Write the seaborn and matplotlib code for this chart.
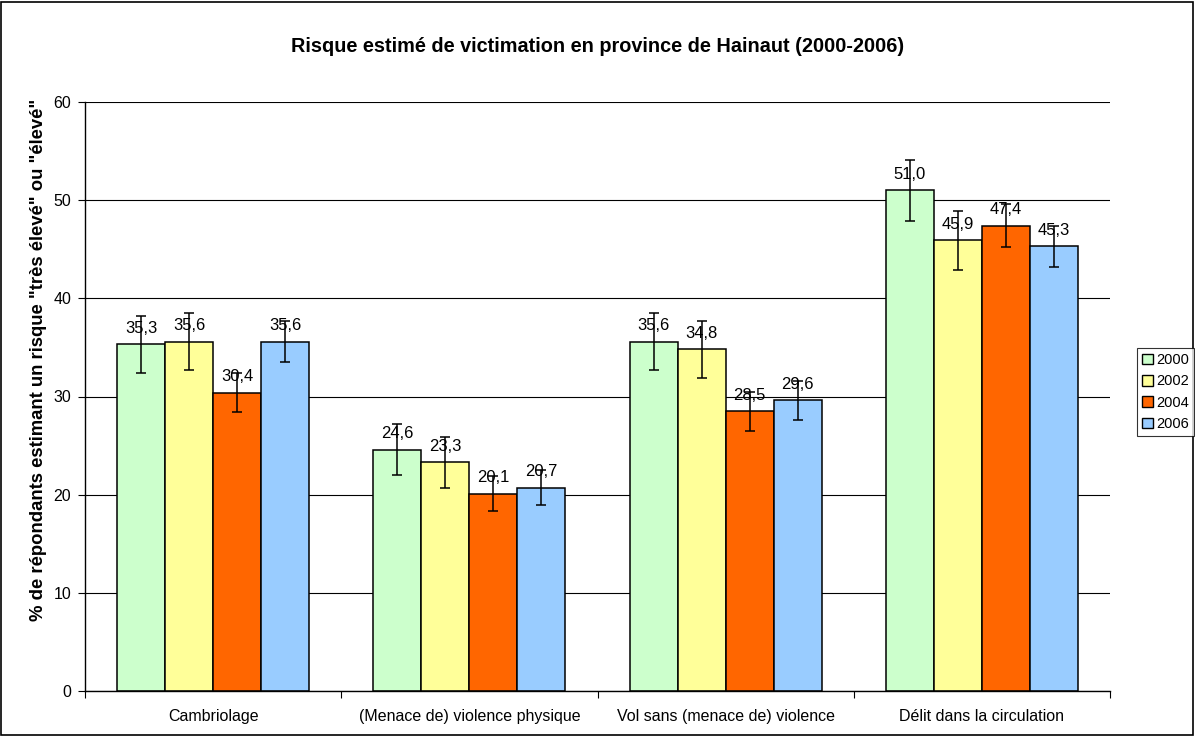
import numpy as np
import pandas as pd
import seaborn as sns
import matplotlib.pyplot as plt
from matplotlib.patches import Rectangle

# Data
categories = ["Cambriolage", "(Menace de) violence physique",
              "Vol sans (menace de) violence", "Délit dans la circulation"]
years = ["2000", "2002", "2004", "2006"]
values_2000 = [35.3, 24.6, 35.6, 51.0]
values_2002 = [35.6, 23.3, 34.8, 45.9]
values_2004 = [30.4, 20.1, 28.5, 47.4]
values_2006 = [35.6, 20.7, 29.6, 45.3]
err_2000 = [2.9, 2.6, 2.9, 3.1]
err_2002 = [2.9, 2.6, 2.9, 3.0]
err_2004 = [2.0, 1.8, 2.0, 2.2]
err_2006 = [2.1, 1.8, 2.0, 2.1]
colors = ["#CCFFCC", "#FFFF99", "#FF6600", "#99CCFF"]

values = [values_2000, values_2002, values_2004, values_2006]
errors = [err_2000, err_2002, err_2004, err_2006]

df = pd.DataFrame({
    "categorie": np.tile(categories, len(years)),
    "annee": np.repeat(years, len(categories)),
    "valeur": np.concatenate(values),
})

sns.set_style("white")
plt.rcParams['font.family'] = ['Liberation Sans', 'DejaVu Sans']
plt.rcParams['text.color'] = 'black'
plt.rcParams['xtick.color'] = 'black'
plt.rcParams['ytick.color'] = 'black'
plt.rcParams['axes.labelcolor'] = 'black'

fig = plt.figure(figsize=(11.95, 7.36), dpi=100)
ax = fig.add_axes([85 / 1195, 1 - 691 / 736, (1110 - 85) / 1195, (691 - 102) / 736])

sns.barplot(data=df, x="categorie", y="valeur", hue="annee", order=categories,
            hue_order=years, palette=colors, width=0.75, errorbar=None,
            edgecolor="black", linewidth=1.1, saturation=1, ax=ax, legend=False)

# error bars + value labels
for cont, errs in zip(ax.containers, errors):
    xs = [b.get_x() + b.get_width() / 2 for b in cont]
    hs = [b.get_height() for b in cont]
    ax.errorbar(xs, hs, yerr=errs, fmt="none", ecolor="black",
                elinewidth=1.1, capsize=3.5, capthick=1.1, zorder=4)
    ax.bar_label(cont, labels=[f"{h:.1f}".replace(".", ",") for h in hs],
                 padding=6, fontsize=12, zorder=5)

ax.set_ylim(0, 60)
ax.set_xlim(-0.5, 3.5)
ax.set_yticks(range(0, 61, 10))
ax.yaxis.grid(True, color="black", linewidth=0.8)
ax.set_axisbelow(True)
ax.tick_params(axis="y", direction="out", length=5, width=0.8, color="black",
               labelsize=11.5, left=True, pad=5)
ax.tick_params(axis="x", length=0, labelsize=11.5, pad=13)
ax.set_xticks(np.arange(-0.5, 4, 1), minor=True)
ax.tick_params(axis="x", which="minor", direction="out", length=5, width=0.8,
               color="black", bottom=True)
for s in ["top", "right"]:
    ax.spines[s].set_visible(False)
for s in ["left", "bottom"]:
    ax.spines[s].set_color("black")
    ax.spines[s].set_linewidth(1.0)

ax.set_xlabel("")
ax.set_ylabel('% de répondants estimant un risque "très élevé" ou "élevé"',
              fontsize=13.3, fontweight="bold")
ax.yaxis.set_label_coords(-38 / 1025, (691 - 360) / 589)
fig.suptitle("Risque estimé de victimation en province de Hainaut (2000-2006)",
             fontsize=14.3, fontweight="bold", y=1 - 46 / 736, va="center")

handles = [Rectangle((0, 0), 1, 1, facecolor=c, edgecolor="black", linewidth=1)
           for c in colors]
leg = fig.legend(handles, years, loc="center left",
                 bbox_to_anchor=(1137 / 1195, 1 - 392 / 736), fontsize=10.5,
                 frameon=True, fancybox=False, edgecolor="black",
                 handlelength=0.75, handleheight=0.75, handletextpad=0.2,
                 borderpad=0.35, labelspacing=0.5, borderaxespad=0)
leg.get_frame().set_linewidth(0.8)

fig.patches.append(Rectangle((0.001, 0.0015), 0.997, 0.996, transform=fig.transFigure,
                             fill=False, edgecolor="black", linewidth=1.2))

fig.savefig("out.png", dpi=100)
